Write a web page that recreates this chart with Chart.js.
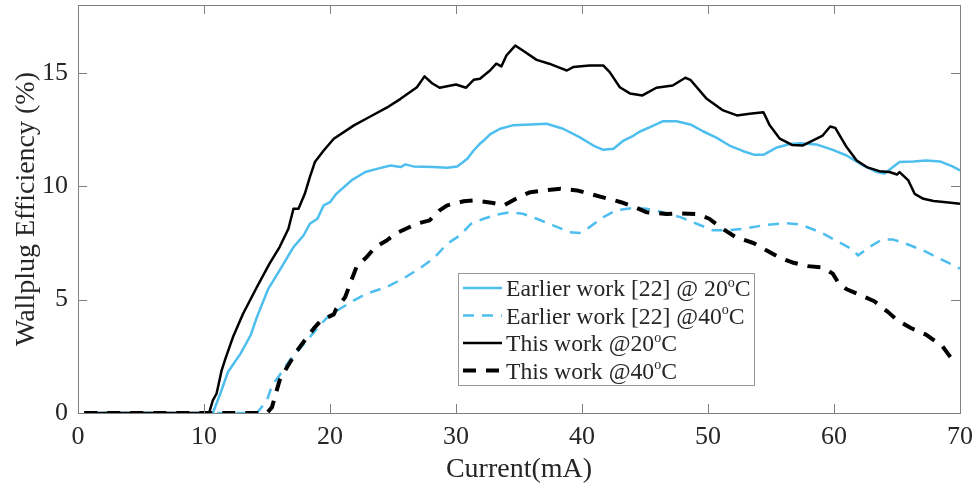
<!DOCTYPE html>
<html>
<head>
<meta charset="utf-8">
<script src="https://cdn.jsdelivr.net/npm/chart.js@4.4.1/dist/chart.umd.min.js"></script>
<style>
html, body { margin: 0; padding: 0; background: #fff; }
#wrap { width: 976px; height: 486px; }
</style>
</head>
<body>
<div id="wrap"><canvas id="effChart"></canvas></div>
<script>
// values: [current (mA), wallplug efficiency (%)]
const earlier20 = [[0.5,0],[10.7,0],[11.3,0.86],[11.9,1.81],[12.9,2.62],[13.7,3.43],[14.2,4.23],[15.1,5.48],[16.0,6.29],[17.1,7.32],[17.9,7.83],[18.4,8.35],[19.0,8.57],[19.5,9.16],[20.0,9.30],[20.5,9.67],[21.7,10.26],[22.8,10.63],[23.8,10.78],[24.8,10.92],[25.6,10.85],[26.0,10.97],[26.6,10.88],[28.2,10.85],[29.3,10.82],[30.1,10.88],[30.9,11.22],[31.4,11.58],[31.9,11.88],[32.2,12.02],[32.7,12.29],[33.5,12.54],[34.5,12.69],[35.9,12.73],[37.2,12.76],[38.5,12.54],[39.8,12.17],[40.9,11.8],[41.7,11.61],[42.5,11.66],[43.3,12.02],[44.1,12.24],[44.6,12.42],[45.4,12.61],[46.4,12.87],[47.5,12.87],[48.6,12.73],[49.6,12.43],[50.7,12.14],[51.7,11.80],[52.8,11.55],[53.7,11.39],[54.4,11.39],[55.4,11.70],[56.5,11.87],[57.3,11.9],[58.6,11.85],[59.9,11.61],[61.0,11.36],[62.3,10.92],[63.4,10.63],[64.0,10.56],[64.4,10.73],[65.2,11.07],[66.3,11.1],[67.3,11.14],[68.4,11.1],[69.4,10.88],[70,10.70]];

const earlier40 = [[0.5,0],[14.2,0],[15.0,0.56],[15.4,1.22],[15.9,1.59],[16.8,2.32],[17.6,2.84],[18.4,3.35],[19.2,3.87],[19.8,4.23],[20.8,4.6],[21.9,4.97],[22.9,5.26],[24.5,5.56],[25.8,5.93],[27.1,6.37],[28.2,6.81],[29.3,7.47],[30.3,7.83],[31.2,8.35],[32.2,8.57],[33.2,8.75],[34.3,8.86],[35.3,8.79],[36.4,8.57],[37.7,8.28],[39.0,7.98],[39.8,7.94],[40.6,8.2],[41.7,8.64],[42.7,8.94],[44.1,9.05],[45.1,9.01],[46.4,8.86],[47.8,8.64],[49.1,8.35],[50.4,8.06],[51.5,8.06],[52.8,8.13],[54.4,8.28],[56.2,8.38],[57.3,8.32],[58.9,7.98],[60.4,7.54],[61.5,7.20],[61.9,6.95],[62.8,7.32],[63.8,7.65],[64.7,7.65],[65.7,7.47],[67.1,7.17],[68.4,6.81],[70,6.37]];

const this20 = [[0.5,0],[10.4,0],[10.7,0.56],[11.0,0.86],[11.4,1.88],[11.7,2.4],[12.3,3.35],[13.1,4.38],[14.2,5.56],[15.2,6.59],[16.0,7.32],[16.7,8.13],[17.1,9.01],[17.5,9.01],[18.0,9.67],[18.4,10.41],[18.8,11.07],[19.5,11.58],[20.3,12.1],[21.9,12.69],[23.2,13.08],[24.5,13.47],[25.6,13.86],[26.9,14.37],[27.5,14.85],[28.1,14.55],[28.7,14.35],[30.0,14.49],[30.8,14.35],[31.4,14.70],[31.9,14.75],[32.7,15.11],[33.2,15.41],[33.6,15.29],[34.0,15.77],[34.7,16.21],[35.3,15.99],[36.4,15.58],[37.4,15.41],[38.1,15.26],[38.8,15.11],[39.3,15.26],[40.6,15.33],[41.7,15.33],[42.2,15.04],[43.0,14.37],[43.8,14.1],[44.8,14.01],[45.9,14.35],[47.2,14.45],[48.2,14.79],[48.6,14.70],[49.9,13.86],[51.2,13.35],[52.3,13.13],[53.3,13.2],[54.4,13.27],[54.9,12.69],[55.7,12.10],[56.7,11.82],[57.5,11.80],[58.3,12.02],[59.1,12.24],[59.7,12.64],[60.1,12.58],[61.0,11.73],[61.8,11.14],[62.6,10.85],[63.6,10.67],[64.4,10.63],[65.0,10.52],[65.2,10.63],[65.9,10.26],[66.4,9.67],[67.1,9.45],[67.9,9.35],[68.9,9.30],[70,9.23]];

const this40 = [[0.5,0],[15.0,0],[15.4,0.26],[15.7,0.86],[16.0,1.44],[16.6,2.03],[17.4,2.76],[17.9,3.13],[18.7,3.72],[19.3,4.09],[20.3,4.35],[20.5,4.6],[21.2,5.11],[21.7,5.85],[22.1,6.44],[22.9,6.88],[23.6,7.32],[24.5,7.61],[25.2,7.91],[26.6,8.28],[27.1,8.38],[27.9,8.5],[28.7,8.94],[29.3,9.16],[30.6,9.34],[31.4,9.38],[32.8,9.28],[33.8,9.16],[35.1,9.56],[35.9,9.74],[37.3,9.84],[38.3,9.89],[39.6,9.82],[40.6,9.67],[42.1,9.45],[43.1,9.3],[44.2,9.08],[45.1,8.86],[46.7,8.78],[47.7,8.81],[49.2,8.77],[50.1,8.57],[51.3,8.08],[52.2,7.76],[53.6,7.5],[54.4,7.25],[55.7,6.85],[56.7,6.64],[57.9,6.48],[59.1,6.42],[59.9,6.15],[60.4,5.7],[61.0,5.46],[62.1,5.2],[63.2,4.93],[64.3,4.45],[65.0,4.1],[66.1,3.75],[67.3,3.46],[68.2,3.1],[68.6,2.95],[69.2,2.5],[69.4,2.35]];

const seriesLabels = ['Earlier work [22] @ 20ºC', 'Earlier work [22] @40ºC', 'This work @20ºC', 'This work @40ºC'];
const xTicks = [0, 10, 20, 30, 40, 50, 60, 70];
const yTicks = [0, 5, 10, 15];

const FONT = '"Liberation Serif", "Times New Roman", serif';
const TEXT = '#262626';
const AXIS = '#808080';
const BLUE = '#4DBEEE';

const toPts = arr => arr.map(p => ({ x: p[0], y: p[1] }));

// boxed axes with inward ticks on all four sides
const boxTicks = {
    id: 'boxTicks',
    afterDraw(chart) {
        const { ctx, chartArea: a, scales } = chart;
        const len = 9;
        ctx.save();
        ctx.strokeStyle = AXIS;
        ctx.lineWidth = 1;
        ctx.setLineDash([]);
        ctx.strokeRect(Math.round(a.left) + 0.5, Math.round(a.top) + 0.5, Math.round(a.right - a.left), Math.round(a.bottom - a.top));
        ctx.beginPath();
        scales.x.ticks.forEach(t => {
            const px = Math.round(scales.x.getPixelForValue(t.value)) + 0.5;
            ctx.moveTo(px, a.bottom); ctx.lineTo(px, a.bottom - len);
            ctx.moveTo(px, a.top); ctx.lineTo(px, a.top + len);
        });
        scales.y.ticks.forEach(t => {
            const py = Math.round(scales.y.getPixelForValue(t.value)) + 0.5;
            ctx.moveTo(a.left, py); ctx.lineTo(a.left + len, py);
            ctx.moveTo(a.right, py); ctx.lineTo(a.right - len, py);
        });
        ctx.stroke();
        ctx.restore();
    }
};

// legend box inside the plot, with superscript "o" in the degree labels
const legendBox = {
    id: 'legendBox',
    afterDraw(chart, args, opts) {
        const { ctx, chartArea: a } = chart;
        const x0 = a.left + opts.left, y0 = a.top + opts.top;
        ctx.save();
        ctx.fillStyle = '#fff';
        ctx.fillRect(x0, y0, opts.width, opts.height);
        ctx.strokeStyle = '#999';
        ctx.lineWidth = 1;
        ctx.strokeRect(Math.round(x0) + 0.5, Math.round(y0) + 0.5, opts.width, opts.height);
        chart.data.datasets.forEach((ds, i) => {
            const cy = y0 + opts.firstRow + i * opts.rowGap;
            ctx.beginPath();
            ctx.setLineDash(ds.borderDash || []);
            ctx.lineWidth = ds.borderWidth;
            ctx.strokeStyle = ds.borderColor;
            ctx.moveTo(x0 + 5, cy);
            ctx.lineTo(x0 + 44, cy);
            ctx.stroke();
            ctx.setLineDash([]);

            const big = '23.7px ' + FONT, small = '14px ' + FONT;
            const parts = ds.label.split('º');
            let tx = x0 + 48;
            ctx.fillStyle = TEXT;
            ctx.textBaseline = 'middle';
            ctx.textAlign = 'left';
            ctx.font = big;
            ctx.fillText(parts[0], tx, cy + 2);
            tx += ctx.measureText(parts[0]).width;
            if (parts.length > 1) {
                ctx.font = small;
                ctx.fillText('o', tx, cy - 5);
                tx += ctx.measureText('o').width;
                ctx.font = big;
                ctx.fillText(parts[1], tx, cy + 2);
            }
        });
        ctx.restore();
    }
};

const ctx = document.getElementById('effChart').getContext('2d');
new Chart(ctx, {
    type: 'line',
    data: {
        datasets: [{
            label: seriesLabels[0],
            data: toPts(earlier20),
            borderColor: BLUE,
            borderWidth: 2.5,
            order: 2
        }, {
            label: seriesLabels[1],
            data: toPts(earlier40),
            borderColor: BLUE,
            borderWidth: 2.5,
            borderDash: [11, 8],
            order: 3
        }, {
            label: seriesLabels[2],
            data: toPts(this20),
            borderColor: '#000',
            borderWidth: 2.5,
            order: 0
        }, {
            label: seriesLabels[3],
            data: toPts(this40),
            borderColor: '#000',
            borderWidth: 4,
            borderDash: [13, 10],
            order: 1
        }]
    },
    options: {
        responsive: true,
        maintainAspectRatio: false,
        animation: false,
        parsing: false,
        elements: {
            point: { radius: 0 },
            line: { tension: 0, fill: false, borderCapStyle: 'butt', borderJoinStyle: 'round' }
        },
        layout: { padding: { left: 0, right: 16, top: 5, bottom: 0 } },
        plugins: {
            legend: { display: false },
            tooltip: { enabled: false },
            legendBox: { left: 380, top: 268, width: 296, height: 112, firstRow: 15, rowGap: 27.5 }
        },
        scales: {
            x: {
                type: 'linear',
                min: 0,
                max: 70,
                afterBuildTicks: s => { s.ticks = xTicks.map(v => ({ value: v })); },
                afterFit: s => { s.height = 73; s.paddingLeft = 0; s.paddingRight = 0; },
                grid: { display: false, drawTicks: false },
                border: { display: false },
                ticks: { color: TEXT, padding: 9, font: { family: FONT, size: 26 } },
                title: { display: true, text: 'Current(mA)', color: TEXT, padding: { top: 0, bottom: 0 }, font: { family: FONT, size: 28 } }
            },
            y: {
                type: 'linear',
                min: 0,
                max: 18,
                afterBuildTicks: s => { s.ticks = yTicks.map(v => ({ value: v })); },
                afterFit: s => { s.width = 78; s.paddingTop = 0; s.paddingBottom = 0; },
                grid: { display: false, drawTicks: false },
                border: { display: false },
                ticks: { color: TEXT, padding: 10, font: { family: FONT, size: 26 } },
                title: { display: true, text: 'Wallplug Efficiency (%)', color: TEXT, padding: { top: 10, bottom: 0 }, font: { family: FONT, size: 28 } }
            }
        }
    },
    plugins: [boxTicks, legendBox]
});
</script>
</body>
</html>
